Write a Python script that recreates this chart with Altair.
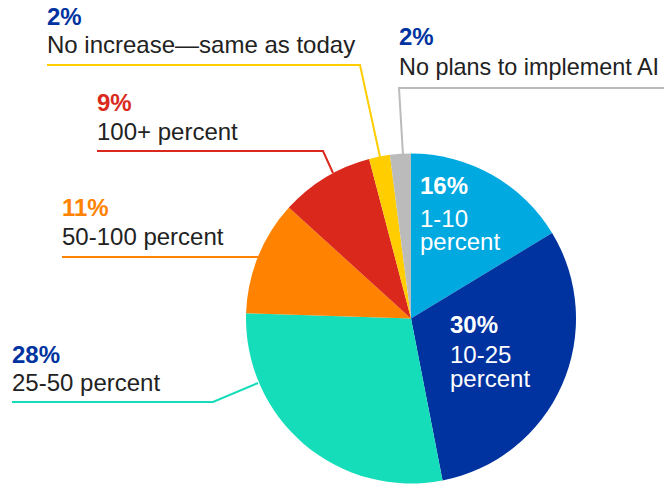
import altair as alt
import pandas as pd

# ---- data ----
categories = ["1-10 percent", "10-25 percent", "25-50 percent", "50-100 percent",
              "100+ percent", "No increase—same as today", "No plans to implement AI"]
values = [16, 30, 28, 11, 9, 2, 2]
colors = ["#00A9E0", "#0033A0", "#16DDB9", "#FF8200", "#DA291C", "#FFCD00", "#BBBBBB"]

pct_labels = ["16%", "30%", "28%", "11%", "9%", "2%", "2%"]
pct_colors = ["#FFFFFF", "#FFFFFF", "#0033A0", "#FF8200", "#DA291C", "#0033A0", "#0033A0"]

# ---- layout of annotations (image pixel coordinates) ----
pct_pos = [(420, 194), (450, 333), (12, 363), (62, 216), (97, 111), (47, 25), (399, 45)]
name_lines = [["1-10", "percent"], ["10-25", "percent"], ["25-50 percent"], ["50-100 percent"],
              ["100+ percent"], ["No increase—same as today"], ["No plans to implement AI"]]
name_pos = [[(420, 227), (420, 250)], [(450, 363), (450, 387)], [(12, 391)], [(62, 245)],
            [(97, 140)], [(47, 53)], [(399, 75)]]
name_sizes = [24, 24, 24, 24, 24, 24, 23.4]
name_colors = ["#FFFFFF", "#FFFFFF", "#222222", "#222222", "#222222", "#222222", "#222222"]
leaders = {
    2: [(12, 402), (213, 402), (258, 383)],
    3: [(62, 257), (258, 257)],
    4: [(97, 151), (323, 151), (333, 173)],
    5: [(47, 65), (360, 65), (380, 157)],
    6: [(680, 88), (399, 88), (403, 155)],
}

W, H = 656, 476
xs = alt.Scale(domain=[8, 8 + W], range=[0, W])
ys = alt.Scale(domain=[8, 8 + H], range=[0, H])

pie_df = pd.DataFrame({"cat": categories, "value": values, "order": list(range(len(values)))})
pie = alt.Chart(pie_df).mark_arc(radius=165, x=403, y=310.5, stroke=None).encode(
    theta=alt.Theta("value:Q", stack=True),
    order=alt.Order("order:Q"),
    color=alt.Color("cat:N", scale=alt.Scale(domain=categories, range=colors), legend=None),
)

line_rows = []
for i, pts in leaders.items():
    for k, (x, y) in enumerate(pts):
        line_rows.append({"grp": categories[i], "k": k, "x": x, "y": y, "col": colors[i]})
line_df = pd.DataFrame(line_rows)
lines = alt.Chart(line_df).mark_line(strokeWidth=2).encode(
    x=alt.X("x:Q", scale=xs, axis=None),
    y=alt.Y("y:Q", scale=ys, axis=None),
    detail="grp:N",
    order="k:Q",
    color=alt.Color("col:N", scale=None),
)

pct_df = pd.DataFrame({"t": pct_labels, "c": pct_colors,
                       "x": [p[0] for p in pct_pos], "y": [p[1] for p in pct_pos]})
pct_text = alt.Chart(pct_df).mark_text(
    align="left", baseline="alphabetic", font="Liberation Sans", fontSize=24, fontWeight="bold"
).encode(
    x=alt.X("x:Q", scale=xs, axis=None),
    y=alt.Y("y:Q", scale=ys, axis=None),
    text="t:N",
    color=alt.Color("c:N", scale=None),
)

name_rows = []
for i, (lns, poss) in enumerate(zip(name_lines, name_pos)):
    for t, (x, y) in zip(lns, poss):
        name_rows.append({"t": t, "x": x, "y": y, "c": name_colors[i], "fs": name_sizes[i]})
name_df = pd.DataFrame(name_rows)
name_text = alt.Chart(name_df).mark_text(
    align="left", baseline="alphabetic", font="Liberation Sans"
).encode(
    x=alt.X("x:Q", scale=xs, axis=None),
    y=alt.Y("y:Q", scale=ys, axis=None),
    text="t:N",
    size=alt.Size("fs:Q", scale=None),
    color=alt.Color("c:N", scale=None),
)

chart = alt.layer(pie, lines, pct_text, name_text).properties(
    width=W, height=H, padding=0, autosize=alt.AutoSizeParams(type="none")
).configure_view(stroke=None).resolve_scale(color="independent")

chart.save("out.html", embed_options={"renderer": "svg", "actions": False})
